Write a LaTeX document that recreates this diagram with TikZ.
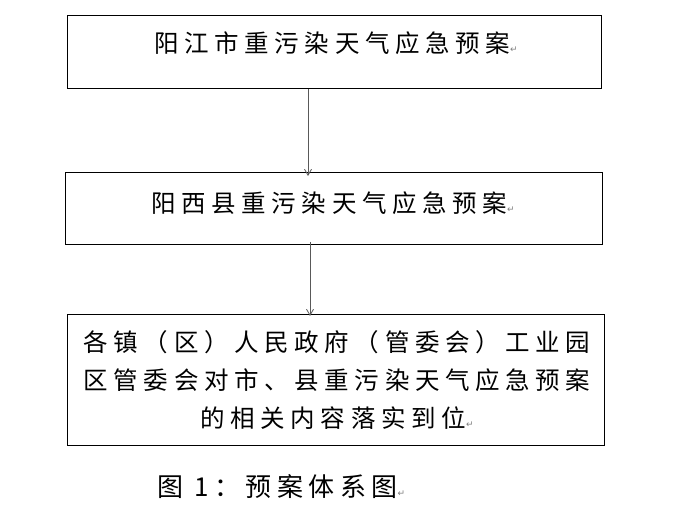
\documentclass[tikz,border=0pt]{standalone}
\usepackage{fontspec}
\setmainfont{Noto Sans CJK SC}
\newfontfamily\cjk[LetterSpace=23]{Noto Sans CJK SC}
\newfontfamily\capfont[LetterSpace=21]{Noto Sans CJK SC}
\newfontfamily\dv{DejaVu Sans}
\usetikzlibrary{arrows.meta}
\newcommand{\pmark}{{\dv\fontsize{9}{9}\selectfont\textcolor{gray}{↵}}}
\begin{document}
\begin{tikzpicture}[x=1pt,y=-1pt]
\tikzset{
  box/.style={draw, line width=0.9pt, inner sep=0pt, anchor=north west},
  txt/.style={inner sep=0pt, font=\cjk\fontsize{24.5}{38}\selectfont},
  arr/.style={draw=black!65, line width=0.8pt, -{Straight Barb[length=6pt,width=7pt]}}
}
\useasboundingbox (0,0) rectangle (675,521);
\fill[white] (0,0) rectangle (675,521);
% boxes
\node[box, minimum width=534pt, minimum height=73pt] (b1) at (67,15) {};
\node[box, minimum width=537pt, minimum height=72pt] (b2) at (65,172) {};
\node[box, minimum width=537pt, minimum height=131pt] (b3) at (67,314) {};
% texts
\node[txt, anchor=west] (t1) at (154,43) {阳江市重污染天气应急预案\pmark};
\node[txt, anchor=west] (t2) at (151,203) {阳西县重污染天气应急预案\pmark};
\node[txt, align=center, anchor=center] (t3) at (337,380)
  {各镇（区）人民政府（管委会）工业园\\区管委会对市、县重污染天气应急预案\\的相关内容落实到位\pmark};
\node[inner sep=0pt, anchor=west, font=\capfont\fontsize{26}{26}\selectfont] (cap) at (157,487) {图 1：预案体系图\pmark};
% connectors
\coordinate (x1) at (308,0);
\coordinate (x2) at (310,0);
\draw[arr] (b1.south -| x1) -- ([yshift=-4pt]b2.north -| x1);
\draw[arr] ([yshift=3pt]b2.south -| x2) -- ([yshift=-2pt]b3.north -| x2);
\end{tikzpicture}
\end{document}
